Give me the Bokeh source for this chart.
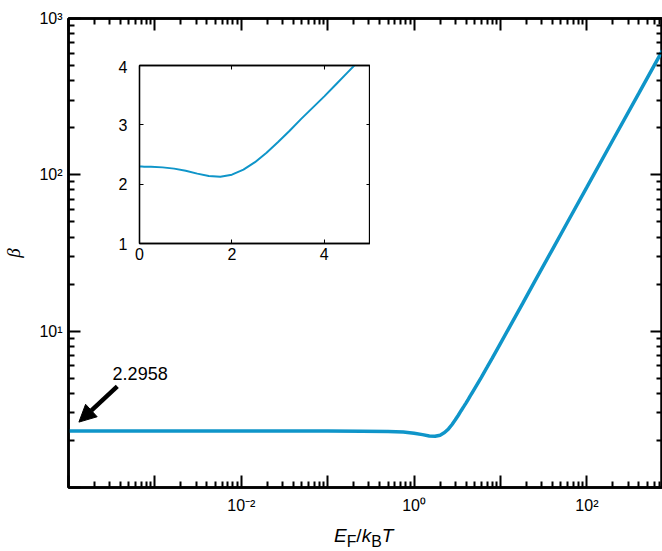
from bokeh.plotting import figure
from bokeh.models import (Range1d, FixedTicker, LogAxis, LinearAxis, Arrow,
                          NormalHead, Label, Column, Div)
from bokeh.embed import file_html
from bokeh.resources import INLINE

# ---- data -------------------------------------------------------------
ef_over_kt = [1e-4, 1e-3, 1e-2, 0.05, 0.1, 0.25, 0.5, 0.75, 1.0, 1.25, 1.5,
              1.75, 2.0, 2.25, 2.5, 2.75, 3.0, 3.25, 3.5, 3.75, 4.0, 4.25,
              4.5, 4.75, 5.0, 6.0, 7.0, 8.0, 10.0, 13.0, 18.0, 25.0, 40.0,
              60.0, 100.0, 200.0, 400.0, 750.0]
beta = [2.2958, 2.2958, 2.2958, 2.2957, 2.2955, 2.294, 2.283, 2.262, 2.225,
        2.178, 2.138, 2.125, 2.16, 2.245, 2.37, 2.53, 2.71, 2.90, 3.10, 3.29,
        3.48, 3.68, 3.88, 4.08, 4.28, 5.07, 5.88, 6.69, 8.35, 10.85, 15.0,
        20.9, 33.4, 50.1, 83.4, 167.0, 333.0, 625.0]

beta_zero = "2.2958"

x_major = [1e-4, 1e-3, 1e-2, 1e-1, 1.0, 10.0, 100.0]
x_labels = {1e-4: " ", 1e-3: " ", 1e-2: "10⁻²", 1e-1: " ", 1.0: "10⁰",
            10.0: " ", 100.0: "10²"}
y_major = [1.0, 10.0, 100.0, 1000.0]
y_labels = {1.0: " ", 10.0: "10¹", 100.0: "10²", 1000.0: "10³"}

inset_x_ticks = [0, 2, 4]
inset_y_ticks = [1, 2, 3, 4]

x_title_html = "<i>E</i><sub>F</sub>/<i>k</i><sub>B</sub><i>T</i>"

# ---- styling ----------------------------------------------------------
BLUE = "#0f95c9"
FONT = "Liberation Sans"

x_minor = [m * 10.0 ** e for e in range(-4, 3) for m in range(2, 10)]
y_minor = [m * 10.0 ** e for e in range(0, 3) for m in range(2, 10)]


def style_axis(ax, major_in, minor_in, width, show_labels=True, fs="16px"):
    ax.axis_line_color = "black"
    ax.axis_line_width = width
    ax.major_tick_in = major_in
    ax.major_tick_out = 0
    ax.minor_tick_in = minor_in
    ax.minor_tick_out = 0
    ax.major_tick_line_width = width * 0.8
    ax.minor_tick_line_width = width * 0.8
    ax.major_tick_line_color = "black"
    ax.minor_tick_line_color = "black"
    ax.major_label_text_font = FONT
    if show_labels:
        ax.major_label_text_font_size = fs
        ax.major_label_text_color = "black"
    else:
        ax.major_label_text_font_size = "1px"
        ax.major_label_text_color = None
        ax.major_label_standoff = 0


p = figure(x_axis_type="log", y_axis_type="log",
           x_range=Range1d(1e-4, 750), y_range=Range1d(1, 1000),
           width=662, height=551,
           min_border_left=68, min_border_right=0,
           min_border_top=18, min_border_bottom=64,
           output_backend="svg", toolbar_location=None)
p.background_fill_color = "white"
p.border_fill_color = "white"
p.outline_line_color = "black"
p.outline_line_width = 2.5
p.xgrid.visible = False
p.ygrid.visible = False

xt = FixedTicker(ticks=x_major, minor_ticks=x_minor)
yt = FixedTicker(ticks=y_major, minor_ticks=y_minor)

p.xaxis.ticker = xt
p.yaxis.ticker = yt
p.xaxis.major_label_overrides = x_labels
p.yaxis.major_label_overrides = y_labels
style_axis(p.xaxis[0], 12, 6, 2.5)
style_axis(p.yaxis[0], 12, 6, 2.5)
p.xaxis.major_label_standoff = 9
p.yaxis.major_label_standoff = 6

p.yaxis.axis_label = "β"
p.yaxis.axis_label_text_font = "Liberation Serif"
p.yaxis.axis_label_text_font_style = "italic"
p.yaxis.axis_label_text_font_size = "19px"
p.yaxis.axis_label_text_color = "black"
p.yaxis.axis_label_standoff = 12

top = LogAxis(ticker=xt)
style_axis(top, 12, 6, 2.5, show_labels=False)
p.add_layout(top, "above")
right = LogAxis(ticker=yt)
style_axis(right, 12, 6, 2.5, show_labels=False)
p.add_layout(right, "right")

p.line(ef_over_kt, beta, line_color=BLUE, line_width=3.5)

p.add_layout(Arrow(end=NormalHead(size=17, fill_color="black",
                                  line_color="black"),
                   x_start=3.67e-4, y_start=4.43, x_end=1.32e-4, y_end=2.62,
                   line_width=4.5, line_color="black"))
p.add_layout(Label(x=3.24e-4, y=5.35, text=beta_zero, text_font=FONT,
                   text_font_size="18px", text_color="black",
                   text_baseline="alphabetic"))

# ---- inset (its left border is aligned with the main plot's) ---------
inset = figure(x_range=Range1d(0, 5), y_range=Range1d(1, 4),
               width=299, height=211,
               min_border_left=30, min_border_right=0,
               min_border_top=5, min_border_bottom=28,
               output_backend="svg", toolbar_location=None)
inset.background_fill_color = "white"
inset.border_fill_color = None
inset.outline_line_color = "black"
inset.outline_line_width = 1.3
inset.xgrid.visible = False
inset.ygrid.visible = False
ixt = FixedTicker(ticks=inset_x_ticks, minor_ticks=[])
iyt = FixedTicker(ticks=inset_y_ticks, minor_ticks=[])
inset.xaxis.ticker = ixt
inset.yaxis.ticker = iyt
style_axis(inset.xaxis[0], 4, 0, 1.3)
style_axis(inset.yaxis[0], 4, 0, 1.3)
inset.xaxis.major_label_standoff = 4
inset.yaxis.major_label_standoff = 12
itop = LinearAxis(ticker=ixt)
style_axis(itop, 4, 0, 1.3, show_labels=False)
inset.add_layout(itop, "above")
iright = LinearAxis(ticker=iyt)
style_axis(iright, 4, 0, 1.3, show_labels=False)
inset.add_layout(iright, "right")
inset.line(ef_over_kt, beta, line_color=BLUE, line_width=2)
inset.styles = {"position": "absolute", "left": "71px", "top": "60px",
                "width": "299px", "height": "211px", "z-index": "5"}

title = Div(text=x_title_html, width=120, height=28,
            styles={"position": "absolute", "left": "329px", "top": "521px",
                    "font-family": FONT, "font-size": "19px",
                    "line-height": "20px", "color": "black",
                    "z-index": "6"})

root = Column(children=[p, inset, title], styles={"position": "relative"})

open("out.html", "w").write(file_html(root, INLINE))
